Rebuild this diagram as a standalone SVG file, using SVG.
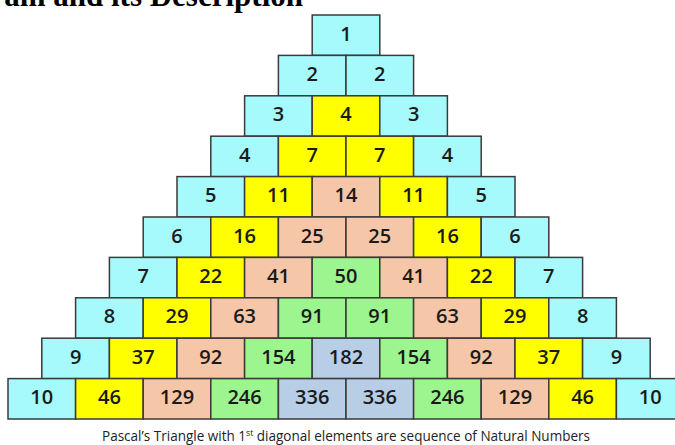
<svg xmlns="http://www.w3.org/2000/svg" width="675" height="445" viewBox="0 0 675 445">
<style>
rect{stroke:#3a3a3a;stroke-width:1.5}
.c0{fill:#a6fafc}.c1{fill:#ffff00}.c2{fill:#f6c6a8}.c3{fill:#9cf58f}.c4{fill:#b8cde6}
.n{font-family:"Open Sans","Lato",sans-serif;font-size:20px;font-weight:600;fill:#1a1a1a;text-anchor:middle}
.cap{font-family:"Open Sans","Lato",sans-serif;font-size:14px;fill:#222}
.title{font-family:"Liberation Serif","Times New Roman",serif;font-size:31px;font-weight:bold;fill:#000}
</style>
<rect width="675" height="445" fill="#fff" style="stroke:none"/>
<text class="title" x="303" y="6" text-anchor="end">am and its Description</text>

<g id="r1">
<g id="r1c1"><rect class="c0" x="312.2" y="15" width="67.6" height="40.4"/><text class="n" x="346" y="40.5">1</text></g>
</g>
<g id="r2">
<g id="r2c1"><rect class="c0" x="278.4" y="55.4" width="67.6" height="40.4"/><text class="n" x="312.2" y="80.9">2</text></g>
<g id="r2c2"><rect class="c0" x="346" y="55.4" width="67.6" height="40.4"/><text class="n" x="379.8" y="80.9">2</text></g>
</g>
<g id="r3">
<g id="r3c1"><rect class="c0" x="244.6" y="95.8" width="67.6" height="40.4"/><text class="n" x="278.4" y="121.3">3</text></g>
<g id="r3c2"><rect class="c1" x="312.2" y="95.8" width="67.6" height="40.4"/><text class="n" x="346" y="121.3">4</text></g>
<g id="r3c3"><rect class="c0" x="379.8" y="95.8" width="67.6" height="40.4"/><text class="n" x="413.6" y="121.3">3</text></g>
</g>
<g id="r4">
<g id="r4c1"><rect class="c0" x="210.8" y="136.2" width="67.6" height="40.4"/><text class="n" x="244.6" y="161.7">4</text></g>
<g id="r4c2"><rect class="c1" x="278.4" y="136.2" width="67.6" height="40.4"/><text class="n" x="312.2" y="161.7">7</text></g>
<g id="r4c3"><rect class="c1" x="346" y="136.2" width="67.6" height="40.4"/><text class="n" x="379.8" y="161.7">7</text></g>
<g id="r4c4"><rect class="c0" x="413.6" y="136.2" width="67.6" height="40.4"/><text class="n" x="447.4" y="161.7">4</text></g>
</g>
<g id="r5">
<g id="r5c1"><rect class="c0" x="177" y="176.6" width="67.6" height="40.4"/><text class="n" x="210.8" y="202.1">5</text></g>
<g id="r5c2"><rect class="c1" x="244.6" y="176.6" width="67.6" height="40.4"/><text class="n" x="278.4" y="202.1">11</text></g>
<g id="r5c3"><rect class="c2" x="312.2" y="176.6" width="67.6" height="40.4"/><text class="n" x="346" y="202.1">14</text></g>
<g id="r5c4"><rect class="c1" x="379.8" y="176.6" width="67.6" height="40.4"/><text class="n" x="413.6" y="202.1">11</text></g>
<g id="r5c5"><rect class="c0" x="447.4" y="176.6" width="67.6" height="40.4"/><text class="n" x="481.2" y="202.1">5</text></g>
</g>
<g id="r6">
<g id="r6c1"><rect class="c0" x="143.2" y="217" width="67.6" height="40.4"/><text class="n" x="177" y="242.5">6</text></g>
<g id="r6c2"><rect class="c1" x="210.8" y="217" width="67.6" height="40.4"/><text class="n" x="244.6" y="242.5">16</text></g>
<g id="r6c3"><rect class="c2" x="278.4" y="217" width="67.6" height="40.4"/><text class="n" x="312.2" y="242.5">25</text></g>
<g id="r6c4"><rect class="c2" x="346" y="217" width="67.6" height="40.4"/><text class="n" x="379.8" y="242.5">25</text></g>
<g id="r6c5"><rect class="c1" x="413.6" y="217" width="67.6" height="40.4"/><text class="n" x="447.4" y="242.5">16</text></g>
<g id="r6c6"><rect class="c0" x="481.2" y="217" width="67.6" height="40.4"/><text class="n" x="515" y="242.5">6</text></g>
</g>
<g id="r7">
<g id="r7c1"><rect class="c0" x="109.4" y="257.4" width="67.6" height="40.4"/><text class="n" x="143.2" y="282.9">7</text></g>
<g id="r7c2"><rect class="c1" x="177" y="257.4" width="67.6" height="40.4"/><text class="n" x="210.8" y="282.9">22</text></g>
<g id="r7c3"><rect class="c2" x="244.6" y="257.4" width="67.6" height="40.4"/><text class="n" x="278.4" y="282.9">41</text></g>
<g id="r7c4"><rect class="c3" x="312.2" y="257.4" width="67.6" height="40.4"/><text class="n" x="346" y="282.9">50</text></g>
<g id="r7c5"><rect class="c2" x="379.8" y="257.4" width="67.6" height="40.4"/><text class="n" x="413.6" y="282.9">41</text></g>
<g id="r7c6"><rect class="c1" x="447.4" y="257.4" width="67.6" height="40.4"/><text class="n" x="481.2" y="282.9">22</text></g>
<g id="r7c7"><rect class="c0" x="515" y="257.4" width="67.6" height="40.4"/><text class="n" x="548.8" y="282.9">7</text></g>
</g>
<g id="r8">
<g id="r8c1"><rect class="c0" x="75.6" y="297.8" width="67.6" height="40.4"/><text class="n" x="109.4" y="323.3">8</text></g>
<g id="r8c2"><rect class="c1" x="143.2" y="297.8" width="67.6" height="40.4"/><text class="n" x="177" y="323.3">29</text></g>
<g id="r8c3"><rect class="c2" x="210.8" y="297.8" width="67.6" height="40.4"/><text class="n" x="244.6" y="323.3">63</text></g>
<g id="r8c4"><rect class="c3" x="278.4" y="297.8" width="67.6" height="40.4"/><text class="n" x="312.2" y="323.3">91</text></g>
<g id="r8c5"><rect class="c3" x="346" y="297.8" width="67.6" height="40.4"/><text class="n" x="379.8" y="323.3">91</text></g>
<g id="r8c6"><rect class="c2" x="413.6" y="297.8" width="67.6" height="40.4"/><text class="n" x="447.4" y="323.3">63</text></g>
<g id="r8c7"><rect class="c1" x="481.2" y="297.8" width="67.6" height="40.4"/><text class="n" x="515" y="323.3">29</text></g>
<g id="r8c8"><rect class="c0" x="548.8" y="297.8" width="67.6" height="40.4"/><text class="n" x="582.6" y="323.3">8</text></g>
</g>
<g id="r9">
<g id="r9c1"><rect class="c0" x="41.8" y="338.2" width="67.6" height="40.4"/><text class="n" x="75.6" y="363.7">9</text></g>
<g id="r9c2"><rect class="c1" x="109.4" y="338.2" width="67.6" height="40.4"/><text class="n" x="143.2" y="363.7">37</text></g>
<g id="r9c3"><rect class="c2" x="177" y="338.2" width="67.6" height="40.4"/><text class="n" x="210.8" y="363.7">92</text></g>
<g id="r9c4"><rect class="c3" x="244.6" y="338.2" width="67.6" height="40.4"/><text class="n" x="278.4" y="363.7">154</text></g>
<g id="r9c5"><rect class="c4" x="312.2" y="338.2" width="67.6" height="40.4"/><text class="n" x="346" y="363.7">182</text></g>
<g id="r9c6"><rect class="c3" x="379.8" y="338.2" width="67.6" height="40.4"/><text class="n" x="413.6" y="363.7">154</text></g>
<g id="r9c7"><rect class="c2" x="447.4" y="338.2" width="67.6" height="40.4"/><text class="n" x="481.2" y="363.7">92</text></g>
<g id="r9c8"><rect class="c1" x="515" y="338.2" width="67.6" height="40.4"/><text class="n" x="548.8" y="363.7">37</text></g>
<g id="r9c9"><rect class="c0" x="582.6" y="338.2" width="67.6" height="40.4"/><text class="n" x="616.4" y="363.7">9</text></g>
</g>
<g id="r10">
<g id="r10c1"><rect class="c0" x="8" y="378.6" width="67.6" height="40.4"/><text class="n" x="41.8" y="404.1">10</text></g>
<g id="r10c2"><rect class="c1" x="75.6" y="378.6" width="67.6" height="40.4"/><text class="n" x="109.4" y="404.1">46</text></g>
<g id="r10c3"><rect class="c2" x="143.2" y="378.6" width="67.6" height="40.4"/><text class="n" x="177" y="404.1">129</text></g>
<g id="r10c4"><rect class="c3" x="210.8" y="378.6" width="67.6" height="40.4"/><text class="n" x="244.6" y="404.1">246</text></g>
<g id="r10c5"><rect class="c4" x="278.4" y="378.6" width="67.6" height="40.4"/><text class="n" x="312.2" y="404.1">336</text></g>
<g id="r10c6"><rect class="c4" x="346" y="378.6" width="67.6" height="40.4"/><text class="n" x="379.8" y="404.1">336</text></g>
<g id="r10c7"><rect class="c3" x="413.6" y="378.6" width="67.6" height="40.4"/><text class="n" x="447.4" y="404.1">246</text></g>
<g id="r10c8"><rect class="c2" x="481.2" y="378.6" width="67.6" height="40.4"/><text class="n" x="515" y="404.1">129</text></g>
<g id="r10c9"><rect class="c1" x="548.8" y="378.6" width="67.6" height="40.4"/><text class="n" x="582.6" y="404.1">46</text></g>
<g id="r10c10"><rect class="c0" x="616.4" y="378.6" width="67.6" height="40.4"/><text class="n" x="650.2" y="404.1">10</text></g>
</g>

<text class="cap" x="102" y="441" textLength="488" lengthAdjust="spacingAndGlyphs">Pascal’s Triangle with 1<tspan font-size="9" dy="-5">st</tspan><tspan dy="5"> diagonal elements are sequence of Natural Numbers</tspan></text>
</svg>
